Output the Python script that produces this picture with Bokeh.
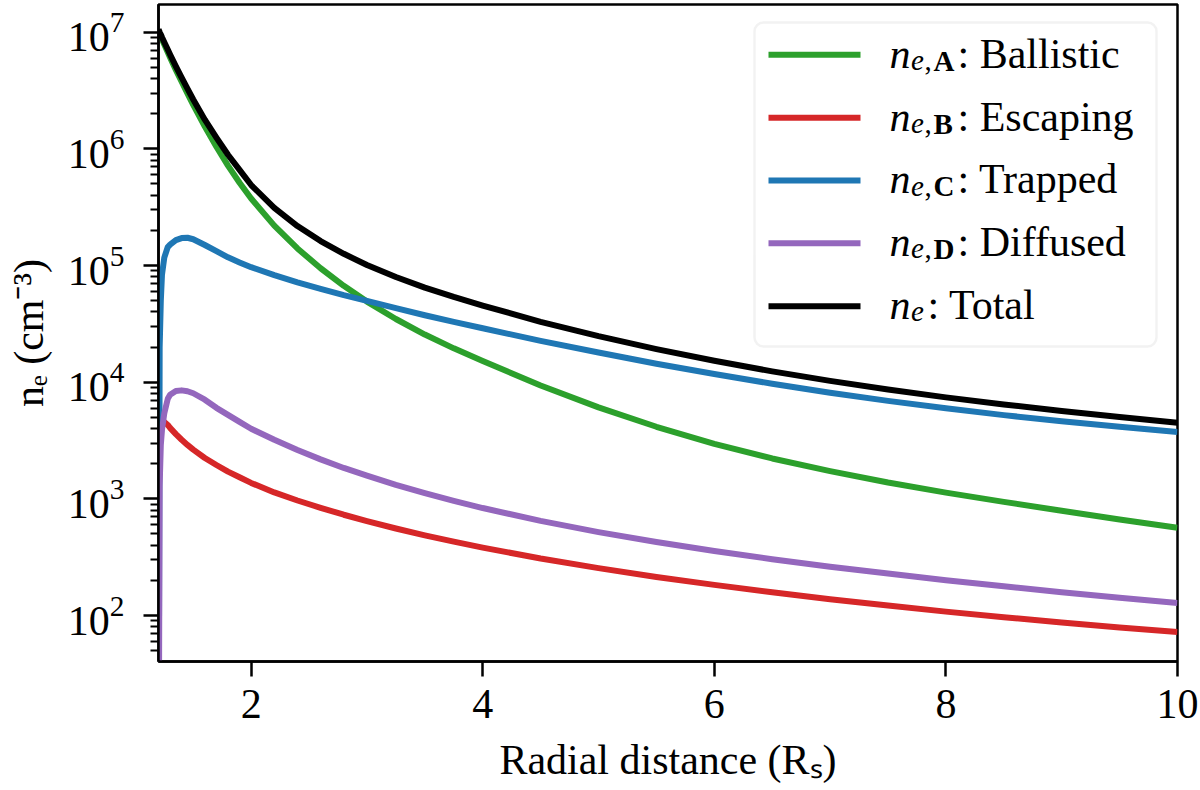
import numpy as np
from bokeh.plotting import figure
from bokeh.models import Range1d, FixedTicker, Label, BoxAnnotation, ColumnDataSource
from bokeh.embed import file_html
from bokeh.resources import INLINE

# ---------------- data ----------------
radial_distance = [1.2, 1.21, 1.22, 1.23, 1.25, 1.28, 1.3, 1.35, 1.4, 1.45, 1.5, 1.6, 1.7,
                   1.8, 1.9, 2.0, 2.2, 2.4, 2.6, 2.8, 3.0, 3.25, 3.5, 3.75, 4.0, 4.5,
                   5.0, 5.5, 6.0, 6.5, 7.0, 7.5, 8.0, 8.5, 9.0, 9.5, 10.0]
ne_A_ballistic = [1.02e7, 9.7e6, 9.2e6, 8.7e6, 7.85e6, 6.73e6, 6.08e6, 4.75e6, 3.76e6,
                  2.99e6, 2.38e6, 1.556e6, 1.042e6, 7.19e5, 5.12e5, 3.76e5, 2.20e5,
                  1.40e5, 9.48e4, 6.70e4, 4.91e4, 3.48e4, 2.56e4, 1.95e4, 1.52e4,
                  9.38e3, 6.08e3, 4.15e3, 2.96e3, 2.22e3, 1.73e3, 1.38e3, 1.13e3,
                  942, 791, 665, 565]
ne_B_escaping = [4.9e3, 4.84e3, 4.76e3, 4.70e3, 4.57e3, 4.30e3, 4.06e3, 3.59e3, 3.21e3,
                 2.90e3, 2.64e3, 2.24e3, 1.95e3, 1.71e3, 1.53e3, 1.37e3, 1135, 968,
                 838, 731, 645, 557, 487, 430, 382, 308, 255, 214, 183, 158, 138,
                 122, 108, 96.8, 87.3, 79.1, 72.1]
ne_C_trapped = [1, 2.0e4, 5.0e4, 8.3e4, 1.17e5, 1.44e5, 1.51e5, 1.65e5, 1.72e5, 1.73e5,
                1.68e5, 1.50e5, 1.33e5, 1.175e5, 1.064e5, 9.68e4, 8.28e4, 7.18e4,
                6.30e4, 5.57e4, 4.98e4, 4.31e4, 3.75e4, 3.29e4, 2.90e4, 2.26e4,
                1.795e4, 1.44e4, 1.175e4, 9.70e3, 8.13e3, 6.92e3, 5.97e3, 5.22e3,
                4.63e3, 4.15e3, 3.74e3]
ne_D_diffused = [1, 1.3e3, 2.9e3, 3.9e3, 5.4e3, 7.2e3, 7.8e3, 8.4e3, 8.51e3, 8.36e3,
                 8.04e3, 7.08e3, 6.03e3, 5.25e3, 4.57e3, 3.99e3, 3.21e3, 2.62e3,
                 2.18e3, 1.84e3, 1.58e3, 1.318e3, 1.12e3, 962, 834, 647, 519, 427,
                 357, 304, 262, 229, 201, 178, 158.6, 142, 128]
ne_total = [1.06e7, 1.0e7, 9.55e6, 9.05e6, 8.2e6, 7.1e6, 6.45e6, 5.1e6, 4.08e6, 3.29e6,
            2.65e6, 1.78e6, 1.25e6, 8.9e5, 6.6e5, 4.9e5, 3.12e5, 2.18e5, 1.62e5,
            1.26e5, 1.011e5, 7.98e4, 6.47e4, 5.38e4, 4.54e4, 3.29e4, 2.48e4, 1.92e4,
            1.525e4, 1.238e4, 1.026e4, 8.65e3, 7.41e3, 6.44e3, 5.67e3, 5.04e3, 4.5e3]

series_keys = ["A", "B", "C", "D", "total"]
series_colors = ["#2ca02c", "#d62728", "#1f77b4", "#9467bd", "#000000"]
legend_subscripts = ["A", "B", "C", "D", None]
legend_names = ["Ballistic", "Escaping", "Trapped", "Diffused", "Total"]

x_ticks = [2, 4, 6, 8, 10]
y_major_ticks = [1e2, 1e3, 1e4, 1e5, 1e6, 1e7]

x_label = "Radial distance (R\u209b)"
y_label = "n\u2091 (cm\u207b\u00b3)"

FONT = "Liberation Serif"

# ---------------- figure ----------------
p = figure(width=1200, height=790, y_axis_type="log",
           x_range=Range1d(1.2, 10.0), y_range=Range1d(40.35, 1.728e7),
           output_backend="svg", toolbar_location=None,
           min_border_left=158, min_border_right=23, min_border_top=4, min_border_bottom=129)
p.background_fill_color = "white"
p.border_fill_color = "white"
p.outline_line_color = "black"
p.outline_line_width = 2.5
p.xgrid.visible = False
p.ygrid.visible = False

src = ColumnDataSource(dict(x=radial_distance, A=ne_A_ballistic, B=ne_B_escaping,
                            C=ne_C_trapped, D=ne_D_diffused, total=ne_total))
for key, col in zip(series_keys, series_colors):
    p.line("x", key, source=src, line_color=col, line_width=6,
           line_join="round", line_cap="butt")

# ---------------- axes ----------------
p.xaxis.ticker = FixedTicker(ticks=x_ticks, minor_ticks=[])
minor = [k * 10.0 ** d for d in range(1, 8) for k in range(2, 10)]
p.yaxis.ticker = FixedTicker(ticks=y_major_ticks, minor_ticks=minor)

for ax in (p.xaxis[0], p.yaxis[0]):
    ax.axis_line_width = 2.5
    ax.axis_line_color = "black"
    ax.major_tick_line_width = 2.5
    ax.major_tick_in = 0
    ax.major_tick_out = 15
    ax.minor_tick_line_width = 2
    ax.minor_tick_in = 0
    ax.minor_tick_out = 8
    ax.major_label_text_font = FONT
    ax.major_label_text_font_size = "42px"
    ax.major_label_text_color = "black"
    ax.axis_label_text_font = FONT
    ax.axis_label_text_font_size = "42px"
    ax.axis_label_text_font_style = "normal"
    ax.axis_label_text_color = "black"

p.xaxis.axis_label = x_label
p.xaxis.major_label_standoff = 13
p.xaxis.axis_label_standoff = 16
p.yaxis.axis_label = y_label
p.yaxis.major_label_standoff = 19
p.yaxis.axis_label_standoff = 13

# ---------------- legend (drawn manually for math-like labels) ----------------
FL, FB = 158.0, 661.0   # frame left / bottom in page px
BASE_FIX = 17.0          # compensation for where the alphabetic baseline lands

def sx(px):
    return px - FL

def sy(py):
    return FB - py

def lab(text, x, y, size, style="normal"):
    p.add_layout(Label(x=sx(x), y=sy(y - BASE_FIX), x_units="screen", y_units="screen",
                       text=text, text_font=FONT, text_font_size=size,
                       text_font_style=style, text_color="black", text_align="left",
                       text_baseline="alphabetic", level="annotation"))

p.add_layout(BoxAnnotation(left=sx(754), right=sx(1156), top=sy(22), bottom=sy(346),
                           left_units="screen", right_units="screen",
                           top_units="screen", bottom_units="screen",
                           fill_color="white", fill_alpha=0.8,
                           line_color="#d4d4d4", line_width=2.5, border_radius=9,
                           level="annotation"))

row_y = [54.3, 117.3, 180.0, 242.7, 305.7]
for i, (col, sub, name) in enumerate(zip(series_colors, legend_subscripts, legend_names)):
    yc = row_y[i]
    p.add_layout(BoxAnnotation(left=sx(768), right=sx(860), top=sy(yc - 3), bottom=sy(yc + 3),
                               left_units="screen", right_units="screen",
                               top_units="screen", bottom_units="screen",
                               fill_color=col, fill_alpha=1.0, line_color=None,
                               level="annotation"))
    base = yc + 15.7
    lab("n", 889, base, "42px", "italic")
    lab("e", 910.5, base + 7, "29px", "italic")
    if sub is not None:
        lab(",", 924, base + 7, "29px")
        lab(sub, 933, base + 7, "29px", "bold")
        lab(": " + name, 957, base, "42px")
    else:
        lab(": " + name, 927, base, "42px")

open("out.html", "w").write(file_html(p, INLINE))
